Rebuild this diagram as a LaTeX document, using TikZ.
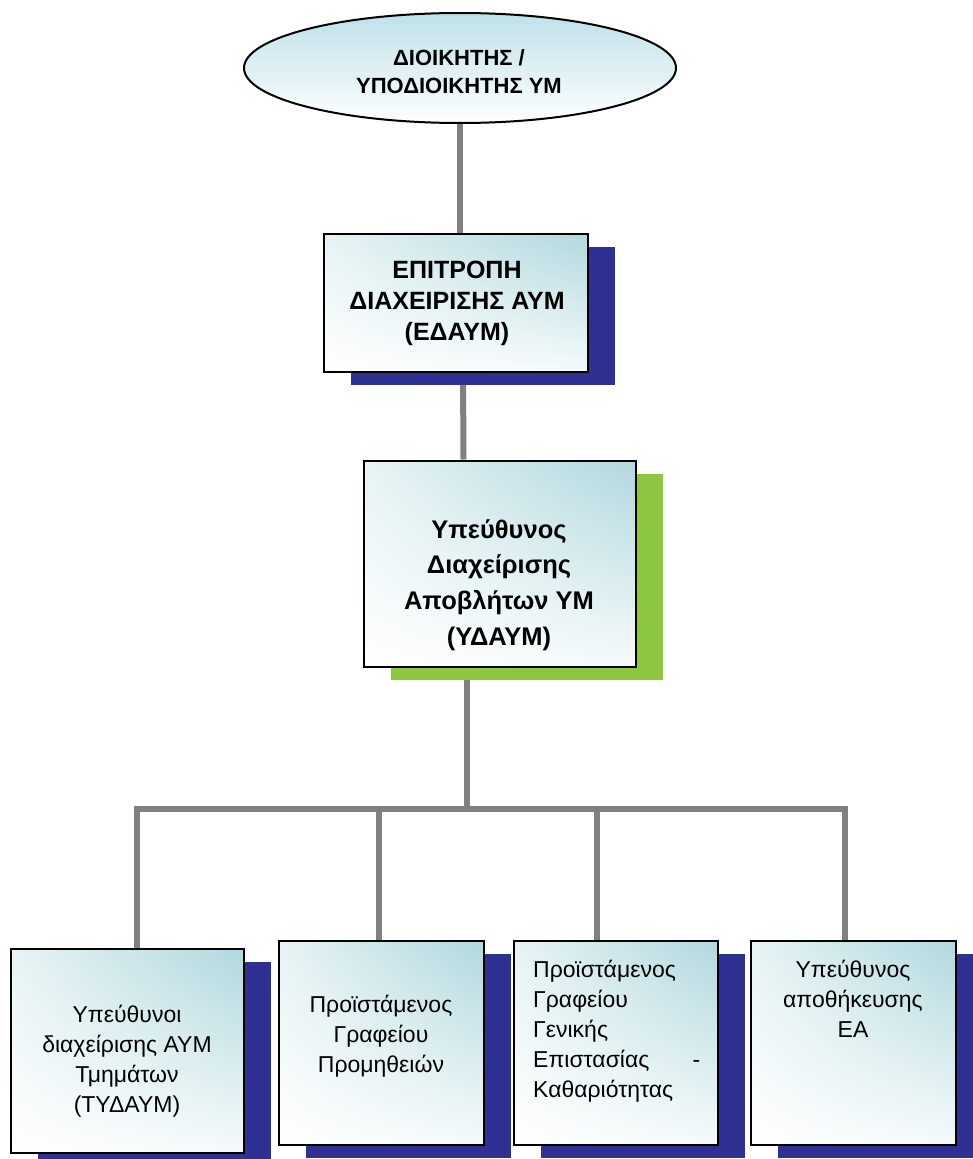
\documentclass[tikz,border=0pt]{standalone}
\usepackage{fontspec}
\setmainfont{Liberation Sans}
\usetikzlibrary{shapes.geometric,shadows,shadings,calc}
\pgfdeclarelayer{back}
\pgfsetlayers{back,main}
\definecolor{shadowblue}{RGB}{46,49,146}
\definecolor{shadowgreen}{RGB}{141,198,63}
\definecolor{conngray}{RGB}{128,128,128}
\definecolor{tint}{RGB}{176,216,222}
\definecolor{etint}{RGB}{190,225,233}
\newcommand\ellfont{\bfseries\fontsize{22}{28}\selectfont}
\newcommand\edfont{\bfseries\fontsize{25}{31}\selectfont}
\newcommand\ydfont{\bfseries\fontsize{25.5}{35.7}\selectfont}
\newcommand\lowfont{\fontsize{23}{30}\selectfont}
\begin{document}
\begin{tikzpicture}[x=1pt,y=-1pt,
  box/.style={draw=black, line width=2pt, inner sep=0pt, shade,
    upper left=tint!30!white, upper right=tint, lower left=white, lower right=tint!12!white},
  navyshadow/.style={general shadow={fill=shadowblue, shadow xshift=27pt, shadow yshift=-13pt}},
  greenshadow/.style={general shadow={fill=shadowgreen, shadow xshift=27pt, shadow yshift=-13pt}},
  ell/.style={ellipse, draw=black, line width=2pt, inner sep=0pt, shade, top color=etint, bottom color=white},
  conn/.style={draw=conngray, line width=6pt},
  tx/.style={anchor=base, inner sep=0pt}]
\useasboundingbox (0,0) rectangle (973,1159);

% top ellipse
\node[ell, minimum width=432pt, minimum height=110pt] (e) at (460,68) {};
\node[tx] (te) at (459,65) {\parbox[t]{300pt}{\centering\ellfont ΔΙΟΙΚΗΤΗΣ /\\ΥΠΟΔΙΟΙΚΗΤΗΣ ΥΜ}};

% committee box
\node[box, navyshadow, minimum width=264pt, minimum height=138pt] (b2) at (455.5,302.5) {};
\node[tx] (tb2) at (457,278) {\parbox[t]{260pt}{\centering\edfont ΕΠΙΤΡΟΠΗ\\ΔΙΑΧΕΙΡΙΣΗΣ ΑΥΜ\\(ΕΔΑΥΜ)}};

% manager box
\node[box, greenshadow, minimum width=272pt, minimum height=206pt] (b3) at (499.5,563.5) {};
\node[tx] (tb3) at (499,538) {\parbox[t]{270pt}{\centering\ydfont Υπεύθυνος\\Διαχείρισης\\Αποβλήτων ΥΜ\\(ΥΔΑΥΜ)}};

% bottom boxes
\node[box, navyshadow, minimum width=233pt, minimum height=204pt] (c1) at (127,1050.5) {};
\node[box, navyshadow, minimum width=205pt, minimum height=204pt] (c2) at (381,1042.5) {};
\node[box, navyshadow, minimum width=204pt, minimum height=204pt] (c3) at (615.5,1042.5) {};
\node[box, navyshadow, minimum width=205pt, minimum height=204pt] (c4) at (853,1042.5) {};

\node[tx] (tc1) at (127,1022) {\parbox[t]{225pt}{\centering\lowfont Υπεύθυνοι\\διαχείρισης ΑΥΜ\\Τμημάτων\\(ΤΥΔΑΥΜ)}};
\node[tx] (tc2) at (381,1012) {\parbox[t]{200pt}{\centering\lowfont Προϊστάμενος\\Γραφείου\\Προμηθειών}};
\node[tx, anchor=base west] (tc3) at (533,977) {\parbox[t]{167pt}{\raggedright\lowfont Προϊστάμενος\\Γραφείου\\Γενικής\\Επιστασίας\hfill-\\Καθαριότητας}};
\node[tx] (tc4) at (853,977) {\parbox[t]{195pt}{\centering\lowfont Υπεύθυνος\\αποθήκευσης\\ΕΑ}};

% connectors
\coordinate (hub) at (467,809);
\coordinate (s1) at (137,809);
\coordinate (s2) at (379,809);
\coordinate (s3) at (597,809);
\coordinate (s4) at (845,809);
\begin{pgfonlayer}{back}
\draw[conn] (e.south) -- (e.south |- b2.north);
\draw[conn] ([xshift=7.5pt]b2.south) -- ([xshift=-36pt]b3.north);
\draw[conn] ([xshift=-32.5pt]b3.south) -- (hub);
\draw[conn] (c1.north -| s1) -- (s1) -- (s4) -- (c4.north -| s4);
\draw[conn] (s2) -- (c2.north -| s2);
\draw[conn] (s3) -- (c3.north -| s3);
\end{pgfonlayer}
\end{tikzpicture}
\end{document}
